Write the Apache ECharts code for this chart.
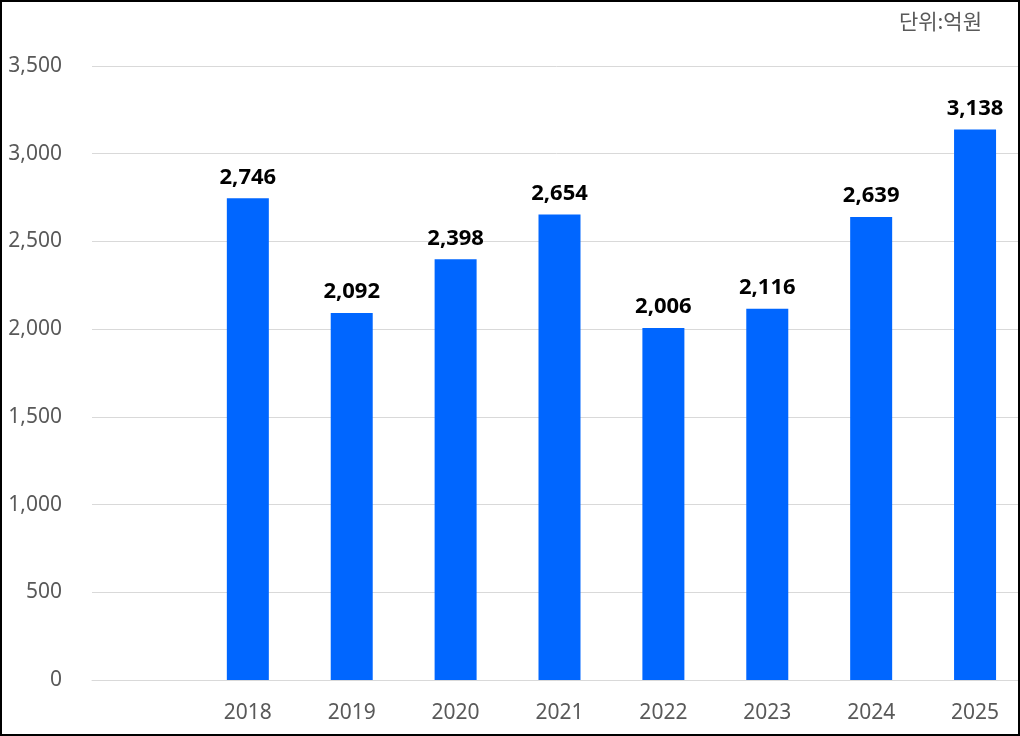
<!DOCTYPE html>
<html><head><meta charset="utf-8">
<script src="https://cdn.jsdelivr.net/npm/echarts@6/dist/echarts.min.js"></script>
<style>html,body{margin:0;padding:0;background:#fff}#c{width:1020px;height:736px}</style>
</head><body><div id="c"></div>
<script>
const categories = ['', '2018', '2019', '2020', '2021', '2022', '2023', '2024', '2025'];
const values = [null, 2746, 2092, 2398, 2654, 2006, 2116, 2639, 3138];
const yTicks = [0, 500, 1000, 1500, 2000, 2500, 3000, 3500];
const unitLabel = '단위:억원';

const chart = echarts.init(document.getElementById('c'), null, {renderer: 'canvas'});
chart.setOption({
  animation: false,
  backgroundColor: '#fff',
  title: {
    text: unitLabel, right: 33, top: 6,
    textStyle: {fontFamily: 'Noto Sans CJK KR', fontSize: 21, fontWeight: 'normal', color: '#595959'}
  },
  grid: {left: 92, width: 935, top: 66, bottom: 56, containLabel: false, outerBoundsMode: 'none'},
  xAxis: {
    type: 'category', data: categories,
    axisLine: {show: true, lineStyle: {color: '#d9d9d9', width: 1}},
    axisTick: {show: false},
    axisLabel: {color: '#595959', fontFamily: 'Noto Sans', fontSize: 21, margin: 23}
  },
  yAxis: {
    type: 'value', min: yTicks[0], max: yTicks[yTicks.length - 1], interval: 500,
    axisLine: {show: false}, axisTick: {show: false},
    splitLine: {lineStyle: {color: '#d9d9d9', width: 1}},
    axisLabel: {color: '#595959', fontFamily: 'Noto Sans', fontSize: 21, margin: 30,
      formatter: v => v.toLocaleString('en-US')}
  },
  series: [{
    type: 'bar', data: values, barWidth: 42,
    itemStyle: {color: '#0066FF'},
    label: {show: true, position: 'top', distance: 10, color: '#000',
      fontFamily: 'Noto Sans', fontWeight: 'bold', fontSize: 22,
      formatter: p => p.value == null ? '' : p.value.toLocaleString('en-US')}
  }],
  graphic: [{
    type: 'rect', shape: {x: 1, y: 1, width: 1018, height: 734},
    style: {fill: 'none', stroke: '#000', lineWidth: 2}, z: 100, silent: true
  }]
});
</script></body></html>
